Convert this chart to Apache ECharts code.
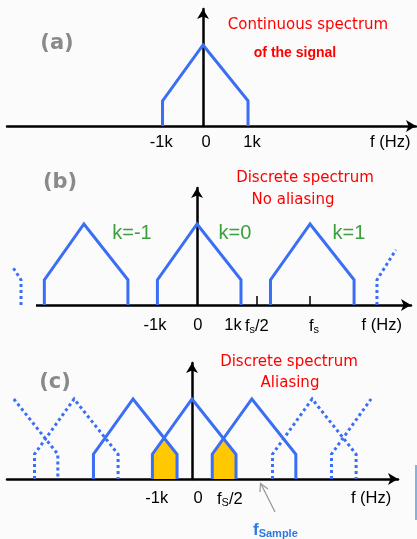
<!DOCTYPE html>
<html><head><meta charset="utf-8">
<script src="https://cdn.jsdelivr.net/npm/echarts@6/dist/echarts.min.js"></script>
<style>html,body{margin:0;padding:0;background:#fbfbfb}#c{width:417px;height:539px}</style>
</head><body><div id="c"></div>
<script>
// ---- data (x in kHz, y = relative amplitude) ----
const shapeFull = [[-0.9,0],[-0.9,0.31],[0,1],[1,0.31],[1,0]];
const shapeRightHalf = [[0,1],[1,0.31],[1,0]];
const shapeLeftHalf = [[-0.9,0],[-0.9,0.31],[0,1]];

// panel (a)
const centresA = [0];
const labelsA = ['-1k','0','1k','f (Hz)'];
const labelPosA = [-0.93, 0.07, 1.09, 4.16];

// panel (b)
const centresB = [-2.57, 0, 2.57];
const partialLeftB = [[-4.0,0],[-4.0,0.31],[-4.18,0.46]];
const partialRightB = [[4.09,0],[4.09,0.31],[4.52,0.68]];
const labelsB = ['-1k','0','1k','fs/2','fs','f (Hz)'];
const labelPosB = [-0.955, 0.02, 0.82, 1.36, 2.66, 4.2];
const ticksB = [1.36, 2.57];
const kLabelsB = ['k=-1','k=0','k=1'];

// panel (c)
const centresCSolid = [-1.34, 0, 1.36];
const centresCDotted = [-2.68, 2.73];
const centreCLeftPartial = -4.05;
const centreCRightPartial = 4.07;
const aliasLeft = [[-0.9,0],[-0.9,0.31],[-0.63,0.5],[-0.34,0.31],[-0.34,0]];
const aliasRight = [[0.46,0],[0.46,0.31],[0.72,0.5],[1.0,0.31],[1.0,0]];
const labelsC = ['-1k','0','fS/2','f (Hz)'];
const labelPosC = [-0.8, 0.14, 0.86, 4.07];
const ticksC = [0.77];

// ---- styling ----
const BLUE = '#3a6ef5';
const BG = '#fbfbfb';
const FONT = 'Liberation Sans, Arial, sans-serif';
const COMIC = 'DejaVu Sans, sans-serif';

function shift(shape, c){ return shape.map(p => [p[0] + c, p[1]]); }

function richLabel(t){
  if (t.indexOf('fs') === 0) return '{f|f}{s|s}' + '{n|' + t.slice(2) + '}';
  if (t.indexOf('fS') === 0) return '{f|f}{s|S}' + '{n|' + t.slice(2) + '}';
  return '{n|' + t + '}';
}

function xAxisCfg(grid, min, max, labels, pos, ticks, margin, tickLen){
  return {
    type:'value', gridIndex:grid, min:min, max:max,
    splitLine:{show:false},
    axisLine:{show:true, onZero:true, symbol:['none','arrow'], symbolSize:[9,10],
      lineStyle:{color:'#000', width:2.5}},
    axisTick:{show: ticks.length>0, inside:true, length:tickLen, customValues:ticks,
      lineStyle:{color:'#000', width:1.5}},
    axisLabel:{show:true, customValues:pos, margin:margin, fontSize:16.5, fontFamily:FONT, color:'#000',
      formatter:function(v){
        let best=0, d=1e9;
        pos.forEach((p,i)=>{ if(Math.abs(p-v)<d){d=Math.abs(p-v);best=i;} });
        return richLabel(labels[best]);
      },
      rich:{
        n:{fontFamily:FONT, fontSize:16.5, color:'#000'},
        f:{fontFamily:FONT, fontSize:16.5, color:'#000'},
        s:{fontFamily:FONT, fontSize:11, color:'#000', padding:[7,0,0,0]}
      }
    }
  };
}
function yAxisCfg(grid, ymax){
  return {
    type:'value', gridIndex:grid, min:0, max:ymax,
    splitLine:{show:false}, axisTick:{show:false}, axisLabel:{show:false},
    axisLine:{show:true, onZero:true, symbol:['none','arrow'], symbolSize:[9,10],
      lineStyle:{color:'#000', width:2.5}}
  };
}
function lineSeries(pts, idx, dotted, z){
  return {
    type:'line', xAxisIndex:idx, yAxisIndex:idx, data:pts, showSymbol:false,
    clip:false, silent:true, z: z || 3,
    lineStyle:{color:BLUE, width:3, type: dotted ? [3,3] : 'solid', cap:'butt', join:'miter'}
  };
}
function areaSeries(pts, idx){
  return {
    type:'line', xAxisIndex:idx, yAxisIndex:idx, data:pts, showSymbol:false,
    clip:false, silent:true, z:2,
    lineStyle:{width:0}, areaStyle:{color:'#ffc800', opacity:1, origin:0}
  };
}

const series = [];
// (a)
centresA.forEach(c => series.push(lineSeries(shift(shapeFull, c), 0, false)));
// (b)
centresB.forEach(c => series.push(lineSeries(shift(shapeFull, c), 1, false)));
series.push(lineSeries(partialLeftB, 1, true));
series.push(lineSeries(partialRightB, 1, true));
// (c)
series.push(areaSeries(aliasLeft, 2));
series.push(areaSeries(aliasRight, 2));
centresCSolid.forEach(c => series.push(lineSeries(shift(shapeFull, c), 2, false)));
centresCDotted.forEach(c => series.push(lineSeries(shift(shapeFull, c), 2, true)));
series.push(lineSeries(shift(shapeRightHalf, centreCLeftPartial), 2, true));
series.push(lineSeries(shift(shapeLeftHalf, centreCRightPartial), 2, true));

function txt(text, x, y, color, font){
  return {type:'text', silent:true, z:10,
    style:{text:text, x:x, y:y, fill:color, font:font, textAlign:'center', textVerticalAlign:'middle'}};
}

const graphics = [
  // hides the part of the (b) baseline left of where the drawn axis starts
  {type:'rect', silent:true, z:1, shape:{x:0, y:298, width:36, height:14}, style:{fill:BG}},
  txt('(a)', 57, 44, '#8a8a8a', 'bold 21px ' + COMIC),
  txt('Continuous spectrum', 308, 25, '#ff0000', '15px ' + COMIC),
  txt('of the signal', 295, 53, '#ff0000', 'bold 14px ' + FONT),
  txt('(b)', 60, 183, '#8a8a8a', 'bold 21px ' + COMIC),
  txt('Discrete spectrum', 305, 178, '#ff0000', '15px ' + COMIC),
  txt('No aliasing', 293, 200, '#ff0000', '15px ' + COMIC),
  txt(kLabelsB[0], 132, 233, '#3ca03c', '20px ' + FONT),
  txt(kLabelsB[1], 235, 233, '#3ca03c', '20px ' + FONT),
  txt(kLabelsB[2], 349, 233, '#3ca03c', '20px ' + FONT),
  txt('(c)', 55, 383, '#8a8a8a', 'bold 21px ' + COMIC),
  txt('Discrete spectrum', 289, 362, '#ff0000', '15px ' + COMIC),
  txt('Aliasing', 290, 383, '#ff0000', '15px ' + COMIC),
  {type:'text', silent:true, z:10, style:{
    text:'{a|f}{b|Sample}', x:253, y:530, textVerticalAlign:'middle',
    rich:{a:{fill:'#2a7ae2', font:'bold 17px ' + FONT},
          b:{fill:'#2a7ae2', font:'bold 11px ' + FONT, padding:[8,0,0,0]}}}},
  {type:'line', silent:true, z:10, shape:{x1:275, y1:512, x2:261, y2:484},
    style:{stroke:'#999', lineWidth:1.2}},
  {type:'polyline', silent:true, z:10, shape:{points:[[260,492],[260.5,483.5],[268,489]]},
    style:{stroke:'#999', lineWidth:1.2, fill:null}},
  {type:'line', silent:true, z:10, shape:{x1:416, y1:465, x2:416, y2:520},
    style:{stroke:'#5b9bd5', lineWidth:1.5}}
];

const chart = echarts.init(document.getElementById('c'), null, {renderer:'canvas'});
chart.setOption({
  animation:false,
  backgroundColor:BG,
  grid:[
    {left:7, right:1, top:9, bottom:413},
    {left:5, right:6, top:188, bottom:234},
    {left:7, right:19, top:363, bottom:60}
  ],
  xAxis:[
    xAxisCfg(0, -4.356, 4.733, labelsA, labelPosA, [], 8, 0),
    xAxisCfg(1, -4.364, 4.864, labelsB, labelPosB, ticksB, 12, 9),
    xAxisCfg(2, -4.205, 4.682, labelsC, labelPosC, ticksC, 11, 7)
  ],
  yAxis:[ yAxisCfg(0, 1.444), yAxisCfg(1, 1.444), yAxisCfg(2, 1.45) ],
  series: series,
  graphic: graphics
});
</script></body></html>
